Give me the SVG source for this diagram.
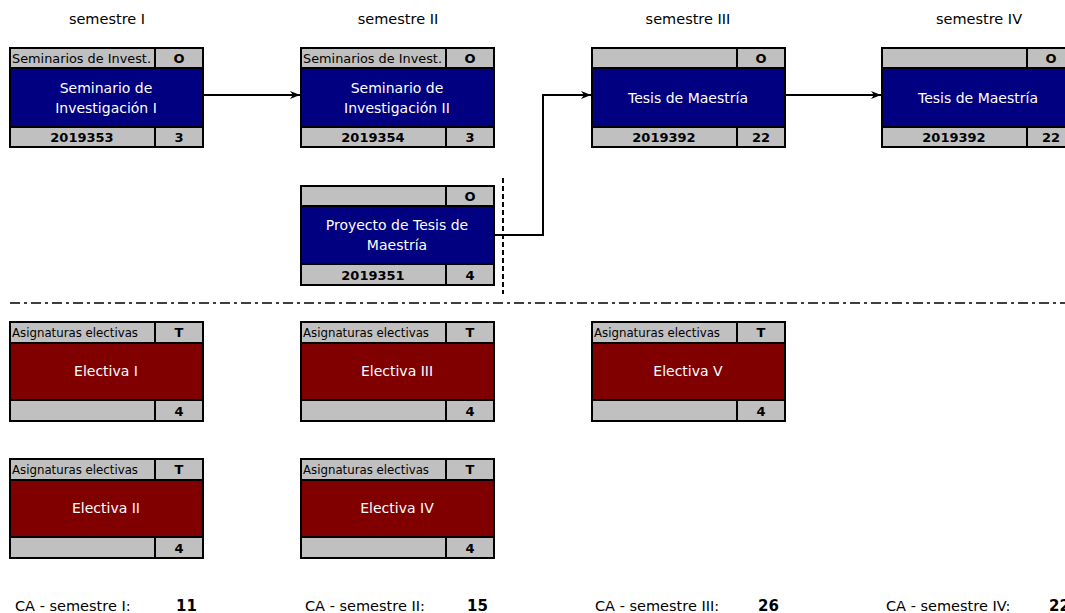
<svg xmlns="http://www.w3.org/2000/svg" width="1065" height="613" viewBox="0 0 1065 613">
<defs>
<style>
text{font-family:"DejaVu Sans","Verdana",sans-serif;}
.g{fill:#C0C0C0;stroke:#000;stroke-width:2;}
.b{fill:#000080;stroke:#000;stroke-width:2;}
.r{fill:#800000;stroke:#000;stroke-width:2;}
.dv{stroke:#000;stroke-width:2;}
.hd{font-size:13px;fill:#000;}
.bo{font-size:13px;font-weight:bold;fill:#000;text-anchor:middle;}
.mt{font-size:14px;fill:#fff;text-anchor:middle;}
.sem{font-size:14.5px;fill:#000;text-anchor:middle;}
.ca{font-size:14.5px;fill:#000;}
.can{font-size:15px;font-weight:bold;fill:#000;}
.con{fill:none;stroke:#000;stroke-width:2;}
</style>
<marker id="ah" viewBox="0 0 10 10" refX="10" refY="5" markerWidth="10" markerHeight="10" markerUnits="userSpaceOnUse" orient="auto">
<path d="M0,1 L10,5 L0,9 L3,5 Z" fill="#000"/>
</marker>
</defs>
<rect width="1065" height="613" fill="#fff"/>

<g id="headers">
<text class="sem" x="107" y="24">semestre I</text>
<text class="sem" x="398" y="24">semestre II</text>
<text class="sem" x="688" y="24">semestre III</text>
<text class="sem" x="979" y="24">semestre IV</text>
</g>

<g id="n1">
<rect class="g" x="10" y="48" width="193" height="20"/>
<rect class="b" x="10" y="68" width="193" height="59"/>
<rect class="g" x="10" y="127" width="193" height="20"/>
<line class="dv" x1="155" y1="48" x2="155" y2="68"/>
<line class="dv" x1="155" y1="127" x2="155" y2="147"/>
<text class="hd" x="12" y="63" textLength="139" lengthAdjust="spacingAndGlyphs">Seminarios de Invest.</text>
<text class="bo" x="179" y="63">O</text>
<text class="mt" x="106" y="93">Seminario de</text>
<text class="mt" x="106" y="113">Investigación I</text>
<text class="bo" x="82" y="142">2019353</text>
<text class="bo" x="179" y="142">3</text>
</g>

<g id="n2">
<rect class="g" x="301" y="48" width="193" height="20"/>
<rect class="b" x="301" y="68" width="193" height="59"/>
<rect class="g" x="301" y="127" width="193" height="20"/>
<line class="dv" x1="446" y1="48" x2="446" y2="68"/>
<line class="dv" x1="446" y1="127" x2="446" y2="147"/>
<text class="hd" x="303" y="63" textLength="139" lengthAdjust="spacingAndGlyphs">Seminarios de Invest.</text>
<text class="bo" x="470" y="63">O</text>
<text class="mt" x="397" y="93">Seminario de</text>
<text class="mt" x="397" y="113">Investigación II</text>
<text class="bo" x="373" y="142">2019354</text>
<text class="bo" x="470" y="142">3</text>
</g>

<g id="n3">
<rect class="g" x="592" y="48" width="193" height="20"/>
<rect class="b" x="592" y="68" width="193" height="59"/>
<rect class="g" x="592" y="127" width="193" height="20"/>
<line class="dv" x1="737" y1="48" x2="737" y2="68"/>
<line class="dv" x1="737" y1="127" x2="737" y2="147"/>
<text class="bo" x="761" y="63">O</text>
<text class="mt" x="688" y="103">Tesis de Maestría</text>
<text class="bo" x="664" y="142">2019392</text>
<text class="bo" x="761" y="142">22</text>
</g>

<g id="n4">
<rect class="g" x="882" y="48" width="193" height="20"/>
<rect class="b" x="882" y="68" width="193" height="59"/>
<rect class="g" x="882" y="127" width="193" height="20"/>
<line class="dv" x1="1027" y1="48" x2="1027" y2="68"/>
<line class="dv" x1="1027" y1="127" x2="1027" y2="147"/>
<text class="bo" x="1051" y="63">O</text>
<text class="mt" x="978" y="103">Tesis de Maestría</text>
<text class="bo" x="954" y="142">2019392</text>
<text class="bo" x="1051" y="142">22</text>
</g>

<g id="n5">
<rect class="g" x="301" y="186" width="193" height="20"/>
<rect class="b" x="301" y="206" width="193" height="58"/>
<rect class="g" x="301" y="264" width="193" height="21"/>
<line class="dv" x1="446" y1="186" x2="446" y2="206"/>
<line class="dv" x1="446" y1="264" x2="446" y2="285"/>
<text class="bo" x="470" y="201">O</text>
<text class="mt" x="397" y="230">Proyecto de Tesis de</text>
<text class="mt" x="397" y="250">Maestría</text>
<text class="bo" x="373" y="280">2019351</text>
<text class="bo" x="470" y="280">4</text>
</g>

<g id="e1">
<rect class="g" x="10" y="322" width="193" height="21"/>
<rect class="r" x="10" y="343" width="193" height="57"/>
<rect class="g" x="10" y="400" width="193" height="21"/>
<line class="dv" x1="155" y1="322" x2="155" y2="343"/>
<line class="dv" x1="155" y1="400" x2="155" y2="421"/>
<text class="hd" x="12" y="337" textLength="126" lengthAdjust="spacingAndGlyphs">Asignaturas electivas</text>
<text class="bo" x="179" y="337">T</text>
<text class="mt" x="106" y="376">Electiva I</text>
<text class="bo" x="179" y="416">4</text>
</g>

<g id="e3">
<rect class="g" x="301" y="322" width="193" height="21"/>
<rect class="r" x="301" y="343" width="193" height="57"/>
<rect class="g" x="301" y="400" width="193" height="21"/>
<line class="dv" x1="446" y1="322" x2="446" y2="343"/>
<line class="dv" x1="446" y1="400" x2="446" y2="421"/>
<text class="hd" x="303" y="337" textLength="126" lengthAdjust="spacingAndGlyphs">Asignaturas electivas</text>
<text class="bo" x="470" y="337">T</text>
<text class="mt" x="397" y="376">Electiva III</text>
<text class="bo" x="470" y="416">4</text>
</g>

<g id="e5">
<rect class="g" x="592" y="322" width="193" height="21"/>
<rect class="r" x="592" y="343" width="193" height="57"/>
<rect class="g" x="592" y="400" width="193" height="21"/>
<line class="dv" x1="737" y1="322" x2="737" y2="343"/>
<line class="dv" x1="737" y1="400" x2="737" y2="421"/>
<text class="hd" x="594" y="337" textLength="126" lengthAdjust="spacingAndGlyphs">Asignaturas electivas</text>
<text class="bo" x="761" y="337">T</text>
<text class="mt" x="688" y="376">Electiva V</text>
<text class="bo" x="761" y="416">4</text>
</g>

<g id="e2">
<rect class="g" x="10" y="459" width="193" height="21"/>
<rect class="r" x="10" y="480" width="193" height="57"/>
<rect class="g" x="10" y="537" width="193" height="21"/>
<line class="dv" x1="155" y1="459" x2="155" y2="480"/>
<line class="dv" x1="155" y1="537" x2="155" y2="558"/>
<text class="hd" x="12" y="474" textLength="126" lengthAdjust="spacingAndGlyphs">Asignaturas electivas</text>
<text class="bo" x="179" y="474">T</text>
<text class="mt" x="106" y="513">Electiva II</text>
<text class="bo" x="179" y="553">4</text>
</g>

<g id="e4">
<rect class="g" x="301" y="459" width="193" height="21"/>
<rect class="r" x="301" y="480" width="193" height="57"/>
<rect class="g" x="301" y="537" width="193" height="21"/>
<line class="dv" x1="446" y1="459" x2="446" y2="480"/>
<line class="dv" x1="446" y1="537" x2="446" y2="558"/>
<text class="hd" x="303" y="474" textLength="126" lengthAdjust="spacingAndGlyphs">Asignaturas electivas</text>
<text class="bo" x="470" y="474">T</text>
<text class="mt" x="397" y="513">Electiva IV</text>
<text class="bo" x="470" y="553">4</text>
</g>

<g id="connectors">
<line class="con" x1="203" y1="95" x2="300" y2="95" marker-end="url(#ah)"/>
<polyline class="con" points="494,235 543,235 543,95 591,95" marker-end="url(#ah)"/>
<line class="con" x1="785" y1="95" x2="881" y2="95" marker-end="url(#ah)"/>
</g>

<g id="separators">
<line x1="10" y1="303" x2="1065" y2="303" stroke="#000" stroke-width="1.5" stroke-dasharray="10,4,3,4"/>
<line x1="503" y1="178" x2="503" y2="294" stroke="#000" stroke-width="2" stroke-dasharray="5,3"/>
</g>

<g id="totals">
<text class="ca" x="15" y="611">CA - semestre I:</text>
<text class="can" x="176" y="611">11</text>
<text class="ca" x="305" y="611">CA - semestre II:</text>
<text class="can" x="467" y="611">15</text>
<text class="ca" x="595" y="611">CA - semestre III:</text>
<text class="can" x="758" y="611">26</text>
<text class="ca" x="886" y="611">CA - semestre IV:</text>
<text class="can" x="1049" y="611">22</text>
</g>
</svg>
